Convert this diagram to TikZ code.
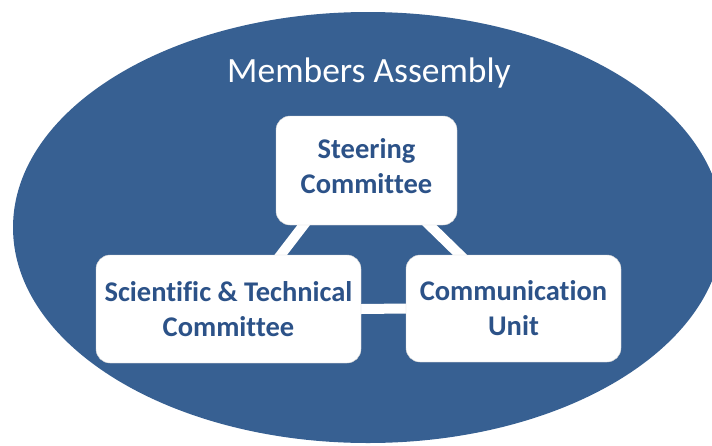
\documentclass[tikz,border=0pt]{standalone}
\usepackage{fontspec}
\setmainfont{Carlito}[Ligatures=NoCommon]
\usepackage{xcolor}
\definecolor{assemblyblue}{RGB}{55,96,146}
\definecolor{boxtext}{RGB}{44,82,136}
\pgfdeclarelayer{back}
\pgfsetlayers{back,main}

\begin{document}
\begin{tikzpicture}[x=1pt,y=-1pt]
            \tikzset{
            body node/.style={rectangle,rounded corners=14pt,fill=white,draw=gray!35,thin,
                align=center,text=boxtext,font=\fontsize{28.5}{35}\selectfont\bfseries,inner sep=0},
            body link/.style={draw=white,line width=10pt,shorten <=-7pt,shorten >=-7pt}
            }
            \useasboundingbox (0,0) rectangle (712,445);
            \clip (0,0) rectangle (712,445);

            \node[body node,minimum width=181pt,minimum height=109pt] (steer) at (366.5,170.5) {Steering\\Committee\\[-25pt]};
            \node[body node,minimum width=265pt,minimum height=108pt] (sci) at (228.5,309) {Scientific \& Technical\\Committee};
            \node[body node,minimum width=215pt,minimum height=107pt] (comm) at (513.5,308.5) {Communication\\Unit};
            \node[text=white,font=\fontsize{35.5}{40}\selectfont,anchor=base] (title) at (369,82) {Members Assembly};

            \begin{pgfonlayer}{back}
            \fill[assemblyblue] (368,227.5) ellipse [x radius=355, y radius=215.5];
            \path[-,body link]
            (steer.221.5) edge[] (sci.46.4)
            (steer.319.4) edge[] (comm.135)
            (sci.east) edge[] (comm.west)
            ;
            \end{pgfonlayer}
        \end{tikzpicture}
\end{document}
